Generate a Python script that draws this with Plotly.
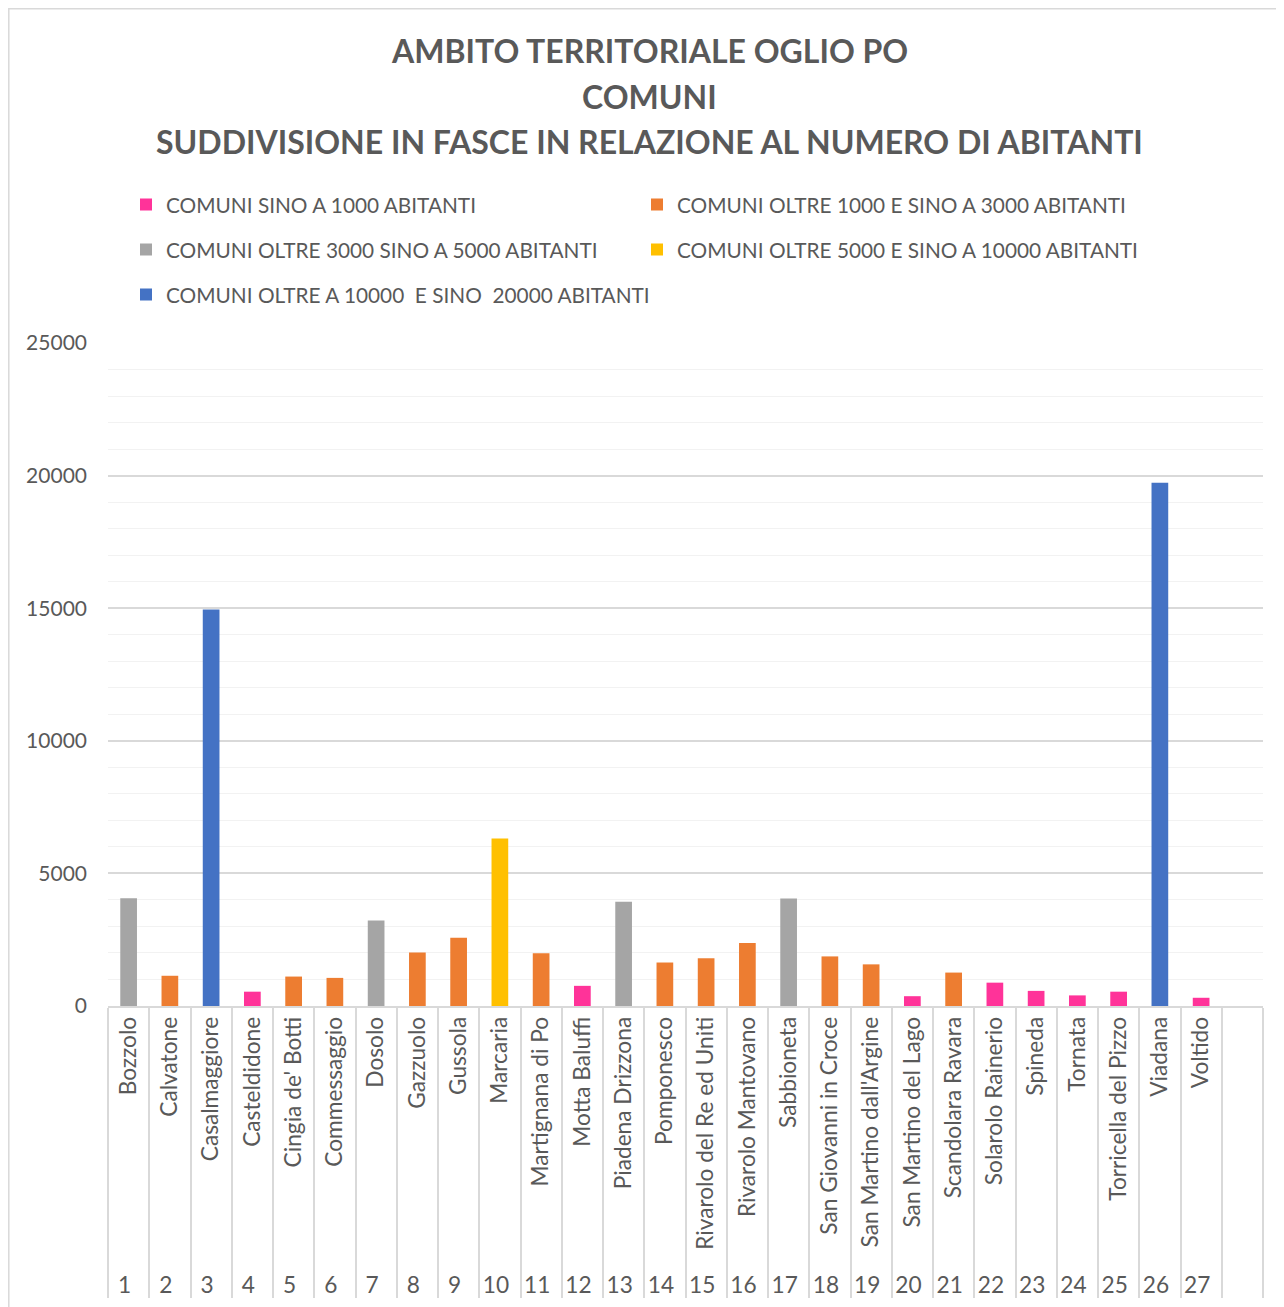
import plotly.graph_objects as go

numbers = [str(i) for i in range(1, 28)] + [" "]
comuni = ["Bozzolo", "Calvatone", "Casalmaggiore", "Casteldidone", "Cingia de' Botti",
          "Commessaggio", "Dosolo", "Gazzuolo", "Gussola", "Marcaria", "Martignana di Po",
          "Motta Baluffi", "Piadena Drizzona", "Pomponesco", "Rivarolo del Re ed Uniti",
          "Rivarolo Mantovano", "Sabbioneta", "San Giovanni in Croce", "San Martino dall'Argine",
          "San Martino del Lago", "Scandolara Ravara", "Solarolo Rainerio", "Spineda", "Tornata",
          "Torricella del Pizzo", "Viadana", "Voltido", " "]
abitanti = [4060, 1140, 14950, 540, 1110, 1060, 3220, 2020, 2570, 6320, 1990, 760, 3930,
            1640, 1800, 2380, 4050, 1870, 1570, 370, 1260, 880, 570, 400, 540, 19730, 310, None]
# class index of each comune (0..4)
fascia = [2, 1, 4, 0, 1, 1, 2, 1, 1, 3, 1, 0, 2, 1, 1, 1, 2, 1, 1, 0, 1, 0, 0, 0, 0, 4, 0, None]
fasce = ["COMUNI SINO A 1000 ABITANTI",
         "COMUNI OLTRE 1000 E SINO A 3000 ABITANTI",
         "COMUNI OLTRE 3000 SINO A 5000 ABITANTI",
         "COMUNI OLTRE 5000 E SINO A 10000 ABITANTI",
         "COMUNI OLTRE A 10000  E SINO  20000 ABITANTI"]
colori = ["#FF3399", "#ED7D31", "#A5A5A5", "#FFC000", "#4472C4"]
legend_ids = ["legend", "legend", "legend2", "legend2", "legend3"]
title_lines = ["AMBITO TERRITORIALE OGLIO PO", "COMUNI",
               "SUDDIVISIONE IN FASCE IN RELAZIONE AL NUMERO DI ABITANTI"]

FONT = "Lato"
TXT = "#595959"

fig = go.Figure()
for k, name in enumerate(fasce):
    ys = [v if f == k else None for v, f in zip(abitanti, fascia)]
    fig.add_trace(go.Bar(x=[numbers, comuni], y=ys, name=name, marker_color=colori[k],
                         marker_line_width=0, legend=legend_ids[k]))

OFF = 8  # page body margin
W, H = 1276, 1299
L, T = 108 - OFF, 343 - OFF
R = W - (1263 - OFF)
B = H - (1006 - OFF)
pw, ph = W - L - R, H - T - B
def px2x(p): return (p - OFF - L) / pw
def py2y(p): return (H - B - (p - OFF)) / ph

leg_common = dict(orientation="h", xanchor="left", yanchor="middle", x=px2x(126),
                  font=dict(family=FONT, size=20.8, color=TXT),
                  bgcolor="rgba(0,0,0,0)", itemwidth=30, traceorder="normal")

fig.update_layout(
    width=W, height=H,
    margin=dict(l=L, r=R, t=T, b=B, autoexpand=False),
    paper_bgcolor="white", plot_bgcolor="white",
    barmode="overlay", bargap=0.595,
    font=dict(family=FONT, color=TXT),
    legend=dict(leg_common, y=py2y(205), entrywidth=466),
    legend2=dict(leg_common, y=py2y(250), entrywidth=466),
    legend3=dict(leg_common, y=py2y(295)),
    showlegend=True,
)
fig.update_yaxes(range=[0, 25000], dtick=5000, tickformat="d", gridcolor="#D9D9D9", gridwidth=1.5,
                 minor=dict(dtick=1000, showgrid=True, gridcolor="#F2F2F2", gridwidth=1.3),
                 showline=False, zeroline=False, tickfont=dict(family=FONT, size=21, color=TXT),
                 ticklabelstandoff=20, automargin=False)
fig.update_xaxes(type="multicategory", tickangle=-90, showline=True, linecolor="#D9D9D9",
                 linewidth=1.5, showdividers=True, dividercolor="#D9D9D9", dividerwidth=1.5,
                 tickfont=dict(family=FONT, size=22.7, color=TXT), showgrid=False,
                 automargin=False, ticks="")

for i, (t, py) in enumerate(zip(title_lines, [50, 96, 142])):
    fig.add_annotation(text=f"<b>{t}</b>", xref="paper", yref="paper", x=px2x(649.5),
                       y=py2y(py), xanchor="center", yanchor="middle", showarrow=False,
                       font=dict(family=FONT, size=32, color=TXT))

fig.add_shape(type="rect", xref="paper", yref="paper", x0=px2x(8.8), x1=px2x(1300),
              y0=py2y(1320), y1=py2y(8.8), line=dict(color="#D9D9D9", width=1.5), layer="below")

fig.write_html("out.html")
